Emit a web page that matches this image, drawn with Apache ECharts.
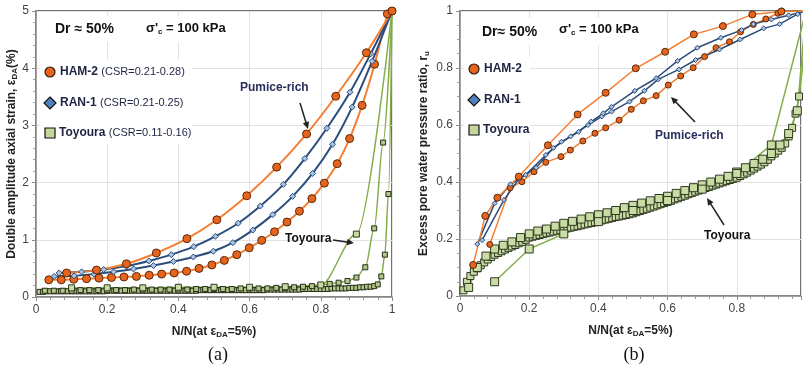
<!DOCTYPE html>
<html>
<head>
<meta charset="utf-8">
<script src="https://cdn.jsdelivr.net/npm/echarts@6/dist/echarts.min.js"></script>
<style>
html, body { margin: 0; padding: 0; background: #fff; }
#chart { width: 804px; height: 370px; }
</style>
</head>
<body>
<div id="chart"></div>
<script>
// ---- (a) double amplitude axial strain (%) vs N/N
const hamA1_x = [0.086, 0.17, 0.254, 0.338, 0.424, 0.508, 0.592, 0.676, 0.76, 0.842, 0.928, 1.0]
const hamA1_y = [0.42, 0.47, 0.58, 0.77, 1.02, 1.35, 1.77, 2.27, 2.85, 3.51, 4.27, 5.0]
const hamA2_x = [0.036, 0.071, 0.106, 0.142, 0.177, 0.212, 0.247, 0.282, 0.318, 0.353, 0.388, 0.423, 0.458, 0.494,
  0.529, 0.564, 0.599, 0.634, 0.67, 0.705, 0.74, 0.775, 0.81, 0.846, 0.881, 0.916, 0.951, 0.987]
const hamA2_y = [0.30, 0.30, 0.31, 0.32, 0.33, 0.34, 0.35, 0.36, 0.38, 0.40, 0.42, 0.45, 0.50, 0.56,
  0.64, 0.74, 0.86, 0.99, 1.14, 1.31, 1.50, 1.72, 1.99, 2.33, 2.77, 3.35, 4.07, 4.95]
const ranA1_x = [0.065, 0.128, 0.19, 0.254, 0.317, 0.38, 0.443, 0.504, 0.568, 0.63, 0.695, 0.755, 0.817, 0.882, 0.94, 1.0]
const ranA1_y = [0.42, 0.44, 0.48, 0.54, 0.63, 0.74, 0.88, 1.06, 1.29, 1.59, 1.97, 2.42, 2.95, 3.58, 4.25, 5.0]
const ranA2_x = [0.051, 0.107, 0.163, 0.218, 0.274, 0.33, 0.386, 0.442, 0.498, 0.553, 0.609, 0.665, 0.721, 0.777,
  0.833, 0.888, 0.944, 1.0]
const ranA2_y = [0.36, 0.37, 0.40, 0.44, 0.49, 0.55, 0.62, 0.70, 0.80, 0.95, 1.17, 1.44, 1.76, 2.16,
  2.67, 3.32, 4.12, 5.0]
// Toyoura: one value per cycle, x = cycle / cycles to failure
const toyA10 = [0.16, 0.16, 0.16, 0.17, 0.17, 0.17, 0.18, 0.21, 1.10, 5.0]
const toyA40 = [0.11, 0.11, 0.11, 0.11, 0.12, 0.12, 0.12, 0.12, 0.12, 0.12,
  0.13, 0.13, 0.13, 0.13, 0.13, 0.13, 0.13, 0.14, 0.14, 0.14,
  0.14, 0.14, 0.15, 0.15, 0.15, 0.15, 0.16, 0.16, 0.17, 0.18,
  0.19, 0.21, 0.23, 0.25, 0.28, 0.34, 0.52, 1.20, 2.70, 5.0]
const toyA100 = [0.09, 0.09, 0.10, 0.10, 0.10, 0.10, 0.10, 0.10, 0.10, 0.10,
  0.10, 0.10, 0.10, 0.10, 0.10, 0.10, 0.10, 0.10, 0.10, 0.11,
  0.11, 0.11, 0.11, 0.11, 0.11, 0.11, 0.11, 0.11, 0.11, 0.11,
  0.11, 0.11, 0.11, 0.11, 0.11, 0.11, 0.11, 0.11, 0.11, 0.11,
  0.11, 0.11, 0.11, 0.11, 0.11, 0.12, 0.12, 0.12, 0.12, 0.12,
  0.12, 0.12, 0.12, 0.12, 0.12, 0.12, 0.12, 0.12, 0.12, 0.12,
  0.12, 0.12, 0.12, 0.12, 0.13, 0.13, 0.13, 0.13, 0.13, 0.13,
  0.13, 0.13, 0.13, 0.13, 0.14, 0.14, 0.14, 0.14, 0.14, 0.14,
  0.14, 0.14, 0.15, 0.15, 0.15, 0.15, 0.15, 0.16, 0.16, 0.16,
  0.17, 0.17, 0.18, 0.18, 0.19, 0.22, 0.36, 0.74, 1.80, 5.0]

// ---- (b) excess pore water pressure ratio vs N/N
const hamB1_x = [0.038, 0.073, 0.108, 0.17, 0.254, 0.34, 0.421, 0.508, 0.593, 0.676, 0.76, 0.845, 0.929, 1.0]
const hamB1_y = [0.109, 0.281, 0.345, 0.419, 0.529, 0.637, 0.713, 0.799, 0.857, 0.918, 0.947, 0.988, 0.998, 1.0]
const hamB2_x = [0.086, 0.145, 0.179, 0.214, 0.248, 0.292, 0.319, 0.355, 0.39, 0.421, 0.46, 0.495, 0.53,
  0.567, 0.602, 0.638, 0.674, 0.707, 0.74, 0.779, 0.811, 0.848, 0.884, 0.919, 0.93]
const hamB2_y = [0.181, 0.38, 0.401, 0.436, 0.469, 0.489, 0.512, 0.544, 0.571, 0.59, 0.617, 0.655, 0.685,
  0.703, 0.74, 0.772, 0.801, 0.84, 0.871, 0.892, 0.927, 0.953, 0.972, 0.992, 1.0]
const ranB1_x = [0.05, 0.1, 0.146, 0.19, 0.248, 0.293, 0.343, 0.379, 0.414, 0.438, 0.505, 0.567, 0.629, 0.686,
  0.754, 0.814, 0.848, 0.9, 0.95, 1.0]
const ranB1_y = [0.182, 0.325, 0.392, 0.425, 0.495, 0.541, 0.576, 0.612, 0.641, 0.664, 0.72, 0.764, 0.825, 0.871,
  0.906, 0.933, 0.954, 0.97, 0.985, 1.0]
const ranB2_x = [0.064, 0.127, 0.17, 0.22, 0.27, 0.32, 0.37, 0.41, 0.438, 0.49, 0.533, 0.573, 0.633, 0.681,
  0.75, 0.81, 0.878, 0.924, 0.976]
const ranB2_y = [0.196, 0.337, 0.41, 0.45, 0.52, 0.56, 0.6, 0.63, 0.647, 0.682, 0.72, 0.76, 0.795, 0.828,
  0.865, 0.9, 0.939, 0.954, 0.989]
const toyB10 = [0.05, 0.165, 0.218, 0.261, 0.30, 0.335, 0.375, 0.43, 0.53, 1.0]
const toyB40 = [0.03, 0.10, 0.14, 0.165, 0.178, 0.19, 0.205, 0.218, 0.228, 0.235,
  0.245, 0.255, 0.262, 0.27, 0.278, 0.285, 0.292, 0.30, 0.31, 0.318,
  0.326, 0.334, 0.342, 0.35, 0.36, 0.37, 0.38, 0.39, 0.40, 0.41,
  0.42, 0.435, 0.45, 0.465, 0.48, 0.50, 0.53, 0.57, 0.65, 1.0]
const toyB100 = [0.02, 0.05, 0.07, 0.085, 0.097, 0.108, 0.118, 0.128, 0.137, 0.145,
  0.151, 0.157, 0.163, 0.169, 0.174, 0.179, 0.185, 0.19, 0.197, 0.205,
  0.208, 0.211, 0.214, 0.217, 0.22, 0.223, 0.226, 0.229, 0.232, 0.235,
  0.238, 0.24, 0.243, 0.245, 0.248, 0.251, 0.254, 0.256, 0.259, 0.262,
  0.265, 0.268, 0.271, 0.274, 0.277, 0.279, 0.282, 0.284, 0.287, 0.29,
  0.294, 0.298, 0.302, 0.306, 0.31, 0.314, 0.318, 0.322, 0.326, 0.33,
  0.334, 0.339, 0.343, 0.348, 0.352, 0.357, 0.361, 0.366, 0.37, 0.375,
  0.379, 0.383, 0.387, 0.391, 0.395, 0.399, 0.403, 0.407, 0.411, 0.415,
  0.421, 0.427, 0.433, 0.44, 0.447, 0.454, 0.461, 0.469, 0.478, 0.49,
  0.5, 0.51, 0.52, 0.535, 0.56, 0.59, 0.64, 0.7, 0.8, 1.0]

const xTicks = [0, 0.2, 0.4, 0.6, 0.8, 1]

const FONT = 'Liberation Sans, Arial, sans-serif'
const TXT = '#1e2442'
const ORANGE = { line: '#f47f32', fill: '#e6641c', edge: '#5a2a0c' }
const BLUE = { line: '#2b4d7c', fill: '#a8c2e2', edge: '#2b4d7c' }
const GREEN = { line: '#84ad4a', fill: '#c9dca4', edge: '#2f3820' }
const GREEN_DARK = { line: '#84ad4a', fill: '#b3c78c', edge: '#262d18' }

const pairs = (xs, ys) => xs.map((x, i) => [x, ys[i]])
const cycles = ys => ys.map((y, i) => [(i + 1) / ys.length, y])

function mk(data, panel, col, symbol, size, width, mono) {
  return {
    type: 'line', data, xAxisIndex: panel, yAxisIndex: panel,
    smooth: panel === 0 ? 0.3 : false,
    smoothMonotone: mono ? 'x' : undefined,
    symbol, symbolSize: size, showAllSymbol: true,
    lineStyle: { color: col.line, width },
    itemStyle: { color: col.fill, borderColor: col.edge, borderWidth: 1 },
    emphasis: { disabled: true },
    animation: false
  }
}

const series = [
  mk(cycles(toyA100), 0, GREEN_DARK, 'rect', 5, 1.5, true),
  mk(cycles(toyA40), 0, GREEN_DARK, 'rect', 5, 1.5, true),
  mk(cycles(toyA10), 0, GREEN, 'rect', 6, 1.5, true),
  mk(pairs(hamA2_x, hamA2_y), 0, ORANGE, 'circle', 8, 2),
  mk(pairs(ranA2_x, ranA2_y), 0, BLUE, 'diamond', 6, 2),
  mk(pairs(ranA1_x, ranA1_y), 0, BLUE, 'diamond', 6, 2),
  mk(pairs(hamA1_x, hamA1_y), 0, ORANGE, 'circle', 8, 2),
  mk(cycles(toyB100), 1, GREEN, 'rect', 7, 1.5),
  mk(cycles(toyB40), 1, GREEN, 'rect', 8, 1.5),
  mk(cycles(toyB10), 1, GREEN, 'rect', 8, 1.5),
  mk(pairs(hamB2_x, hamB2_y), 1, ORANGE, 'circle', 6, 1.5),
  mk(pairs(ranB2_x, ranB2_y), 1, BLUE, 'diamond', 5, 1.5),
  mk(pairs(ranB1_x, ranB1_y), 1, BLUE, 'diamond', 5, 1.5),
  mk(pairs(hamB1_x, hamB1_y), 1, ORANGE, 'circle', 7, 1.5)
]

const subRich = {
  s: { fontSize: 8, fontWeight: 'bold', fontFamily: FONT, color: '#222', verticalAlign: 'bottom', padding: [6, 0, 0, 0] }
}

function xAxis(grid, max) {
  return {
    type: 'value', gridIndex: grid, min: 0, max, interval: 0.2,
    name: 'N/N(at ε{s|DA}=5%)', nameLocation: 'middle', nameGap: 28,
    nameTextStyle: { fontFamily: FONT, fontWeight: 'bold', fontSize: 12, color: '#222', rich: subRich },
    axisLine: { lineStyle: { color: '#8c8c8c', width: 1.5 } },
    axisTick: { length: 4, lineStyle: { color: '#8c8c8c' } },
    minorTick: { show: true, splitNumber: 5, length: 3, lineStyle: { color: '#9a9a9a' } },
    axisLabel: {
      fontFamily: FONT, fontSize: 12, color: '#444', margin: 7,
      formatter: v => xTicks.some(t => Math.abs(t - v) < 1e-6) ? String(+v.toFixed(1)) : ''
    },
    splitLine: { lineStyle: { color: '#e2e2e2' } }
  }
}

function yAxis(grid, max, step, minor, name, gap) {
  return {
    type: 'value', gridIndex: grid, min: 0, max, interval: step,
    name, nameLocation: 'middle', nameGap: gap,
    nameTextStyle: { fontFamily: FONT, fontWeight: 'bold', fontSize: 12, color: '#222', rich: subRich },
    axisLine: { show: true, lineStyle: { color: '#8c8c8c', width: 1.5 } },
    axisTick: { show: true, length: 4, lineStyle: { color: '#8c8c8c' } },
    minorTick: { show: true, splitNumber: minor, length: 3, lineStyle: { color: '#9a9a9a' } },
    axisLabel: { fontFamily: FONT, fontSize: 12, color: '#444', margin: 7 },
    splitLine: { lineStyle: { color: '#e2e2e2' } }
  }
}

function arrow(x1, y1, x2, y2, color) {
  const a = Math.atan2(y2 - y1, x2 - x1)
  const L = 7, W = 3.2
  const c = Math.cos(a), s = Math.sin(a)
  return [
    { type: 'line', z: 100, shape: { x1, y1, x2: x2 - c * 4, y2: y2 - s * 4 }, style: { stroke: color, lineWidth: 1.5 } },
    { type: 'polygon', z: 100, shape: { points: [[x2, y2], [x2 - L * c + W * s, y2 - L * s - W * c], [x2 - L * c - W * s, y2 - L * s + W * c]] }, style: { fill: color } }
  ]
}

const bold = (size, color) => ({ fontFamily: FONT, fontWeight: 'bold', fontSize: size, fill: color || TXT })

function txt(x, y, text, rich) {
  return { type: 'text', z: 101, x, y, style: { text, rich, verticalAlign: 'middle', fill: TXT } }
}
function plain(x, y, text, size, color) {
  return { type: 'text', z: 101, x, y, style: Object.assign(bold(size, color), { text, verticalAlign: 'middle' }) }
}
const box = (x, y, w, h) => ({ type: 'rect', z: 99, shape: { x, y, width: w, height: h }, style: { fill: '#fff' } })

const headRich = { b: bold(14, '#111'), m: bold(13, '#111'), s: Object.assign(bold(8, '#111'), { padding: [7, 0, 0, 0] }) }
const legRich = { b: bold(12), n: { fontFamily: FONT, fontSize: 11, fill: TXT } }

function legend(x, y, withCsr) {
  const lab = (t, csr) => withCsr ? `{b|${t}} {n|${csr}}` : `{b|${t}}`
  return [
    { type: 'circle', z: 101, shape: { cx: x, cy: y, r: 5 }, style: { fill: ORANGE.fill, stroke: '#2a1a10', lineWidth: 1.2 } },
    txt(x + 10, y, lab('HAM-2', '(CSR=0.21-0.28)'), legRich),
    { type: 'polygon', z: 101, shape: { points: [[x, y + 25], [x + 6, y + 31], [x, y + 37], [x - 6, y + 31]] }, style: { fill: '#4f81bd', stroke: '#111', lineWidth: 1.2 } },
    txt(x + 10, y + 31, lab('RAN-1', '(CSR=0.21-0.25)'), legRich),
    { type: 'rect', z: 101, shape: { x: x - 5, y: y + 56, width: 10, height: 10 }, style: { fill: '#c4d79b', stroke: '#111', lineWidth: 1.2 } },
    txt(x + 9, y + 61, lab('Toyoura', '(CSR=0.11-0.16)'), legRich)
  ]
}

const serif = 'Liberation Serif, Times New Roman, serif'
const graphics = [
  // panel (a)
  box(46, 16, 186, 26),
  box(40, 60, 152, 84),
  txt(55, 29, '{b|Dr ≈ 50%}', headRich),
  txt(146, 28, "{m|σ'}{s|c}{m| = 100 kPa}", headRich),
  ...legend(50, 72, true),
  plain(240, 88, 'Pumice-rich', 12, '#2a2f5c'),
  ...arrow(300, 103, 308, 129, '#222'),
  plain(285, 239, 'Toyoura', 12, '#111'),
  ...arrow(333, 240, 354, 243, '#222'),
  { type: 'text', z: 101, x: 218, y: 355, style: { text: '(a)', fontFamily: serif, fontSize: 18, fill: '#111', align: 'center', verticalAlign: 'middle' } },
  // panel (b)
  box(474, 18, 176, 27),
  box(464, 57, 66, 84),
  txt(482, 32, '{b|Dr≈ 50%}', headRich),
  txt(559, 29, "{m|σ'}{s|c}{m| = 100 kPa}", headRich),
  ...legend(474, 69, false),
  plain(655, 136, 'Pumice-rich', 12, '#2a2f5c'),
  ...arrow(695, 122, 671, 97, '#222'),
  plain(704, 236, 'Toyoura', 12, '#111'),
  ...arrow(724, 225, 707, 198, '#222'),
  { type: 'text', z: 101, x: 634, y: 355, style: { text: '(b)', fontFamily: serif, fontSize: 18, fill: '#111', align: 'center', verticalAlign: 'middle' } }
]

const chart = echarts.init(document.getElementById('chart'), null, { renderer: 'canvas' })
chart.setOption({
  backgroundColor: '#fff',
  animation: false,
  grid: [
    { left: 36, top: 11, width: 356, height: 286, show: true, borderColor: '#444', borderWidth: 1.5 },
    // panel (b) is cut off at the right edge of the picture, just before N/N = 1
    { left: 460, top: 11, width: 345, height: 285, show: true, borderColor: '#444', borderWidth: 1.5 }
  ],
  xAxis: [xAxis(0, 1), xAxis(1, 345 / 350)],
  yAxis: [
    yAxis(0, 5, 1, 5, 'Double amplitude axial strain, ε{s|DA}(%)', 17),
    yAxis(1, 1, 0.2, 4, 'Excess pore water pressure ratio, r{s|u}', 29)
  ],
  series,
  graphic: graphics
})
</script>
</body>
</html>
